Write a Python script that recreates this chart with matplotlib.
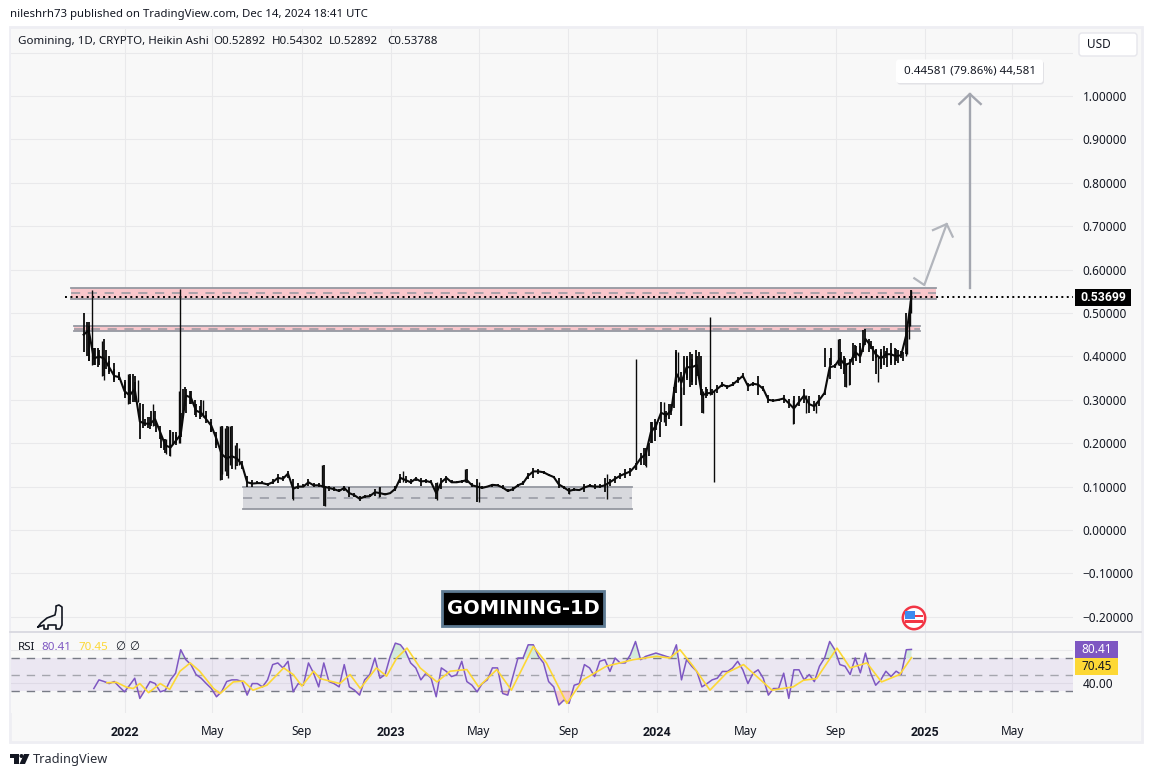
import matplotlib
matplotlib.use("Agg")
import matplotlib.pyplot as plt
from matplotlib.patches import Rectangle, FancyBboxPatch, Polygon, Circle

plt.rcParams['font.family'] = ['Noto Sans', 'DejaVu Sans']

# ---------- data (x = days since 2022-01-01) ----------
days = list(range(-56, 1079, 7))
closes = [.45,.46,.395,.40,.395,.375,.355,.352,.32,.31,.325,.25,.245,.245,.255,.225,.195,.19,.205,.22,
          .31,.305,.275,.27,.255,.24,.21,.175,.165,.17,.165,.15,.11,.107,.108,.108,.105,.11,.12,.118,
          .13,.095,.10,.10,.11,.103,.103,.10,.097,.094,.09,.097,.085,.08,.072,.077,.078,.087,.085,.082,
          .085,.095,.12,.115,.11,.118,.112,.113,.11,.085,.11,.12,.11,.11,.112,.115,.103,.10,.097,.10,
          .104,.103,.098,.09,.094,.103,.108,.125,.135,.135,.133,.127,.122,.105,.098,.09,.093,.092,.098,.102,
          .10,.10,.103,.11,.118,.125,.13,.135,.148,.165,.175,.225,.24,.27,.265,.275,.36,.34,.375,.375,
          .38,.31,.315,.316,.325,.335,.33,.335,.345,.355,.332,.337,.335,.325,.30,.298,.30,.303,.292,.28,
          .295,.31,.29,.285,.30,.316,.375,.378,.395,.38,.385,.41,.40,.44,.425,.405,.395,.405,.405,.40,
          .403,.45,.537]
highs = [.50,.48,.42,.415,.44,.39,.37,.36,.34,.36,.355,.293,.255,.26,.275,.24,.21,.23,.22,.27,
         .325,.32,.29,.30,.265,.255,.225,.24,.24,.24,.20,.16,.125,.115,.112,.112,.109,.117,.128,.125,
         .136,.117,.109,.105,.117,.109,.109,.15,.102,.098,.094,.102,.098,.086,.079,.08,.083,.094,.098,.085,
         .086,.102,.13,.125,.118,.123,.12,.118,.115,.109,.12,.125,.115,.113,.115,.14,.109,.117,.102,.102,
         .107,.105,.103,.094,.098,.107,.113,.132,.143,.14,.136,.13,.125,.12,.102,.097,.097,.095,.105,.105,
         .105,.105,.12,.117,.125,.132,.14,.143,.155,.178,.19,.25,.25,.295,.27,.29,.415,.365,.397,.405,
         .40,.324,.324,.325,.335,.34,.335,.34,.353,.362,.339,.342,.354,.331,.312,.302,.302,.312,.301,.308,
         .308,.324,.308,.297,.312,.32,.397,.382,.44,.397,.393,.427,.423,.462,.435,.416,.416,.412,.432,.416,
         .412,.50,.553]
lows = [.41,.39,.38,.38,.355,.36,.345,.345,.305,.29,.295,.21,.24,.232,.24,.21,.178,.17,.195,.215,
        .27,.29,.26,.26,.247,.225,.195,.115,.125,.14,.147,.14,.10,.10,.105,.105,.102,.105,.109,.113,
        .12,.071,.094,.098,.102,.098,.098,.055,.09,.09,.087,.09,.075,.075,.067,.073,.075,.079,.075,.08,
        .083,.09,.109,.109,.105,.113,.102,.109,.108,.071,.094,.109,.108,.108,.109,.109,.098,.064,.094,.098,
        .10,.102,.094,.088,.09,.098,.103,.117,.12,.13,.13,.124,.12,.097,.094,.082,.09,.09,.087,.10,
        .094,.097,.087,.102,.109,.117,.12,.125,.138,.15,.148,.20,.23,.25,.26,.265,.316,.24,.35,.34,
        .354,.27,.308,.31,.316,.33,.324,.331,.339,.35,.32,.332,.312,.32,.293,.295,.297,.293,.282,.245,
        .285,.293,.27,.274,.285,.312,.347,.374,.377,.33,.335,.397,.385,.427,.416,.397,.37,.397,.38,.39,
        .397,.405,.50]
spike_days = [-45,76,74,131,134,138,142,145,151,157,5,18,-31,-28,39,62,57,108,275,271,231,
              466,485,428,349,382,609,661,715,701,763,802,807,739,758,793,916,934,947,989,993,978,1032,
              1070,1072,1074,1076,1077]
spike_lows = [.38,.20,.20,.115,.13,.135,.12,.15,.14,.15,.29,.295,.355,.345,.24,.17,.175,.26,.055,.10,.07,
              .11,.064,.07,.075,.11,.082,.072,.145,.14,.241,.31,.11,.25,.34,.27,.245,.27,.27,.33,.335,.38,.34,
              .40,.405,.44,.47,.50]
spike_highs = [.553,.556,.32,.24,.24,.235,.24,.24,.195,.19,.36,.345,.435,.39,.29,.23,.21,.30,.10,.15,.10,
               .14,.11,.11,.098,.135,.097,.13,.19,.394,.33,.49,.32,.295,.41,.32,.30,.31,.295,.385,.38,.44,.40,
               .42,.46,.50,.53,.553]
body_days = [-52,-48,-40,-36,-25,-21,-14,-7,1,8,12,15,25,32,36,43,50,54,66,70,80,83,90,97,104,111,118,125,
             712,719,723,727,733,742,746,753,756,767,771,774,778,783,787,790,797,
             960,968,982,985,998,1002,1008,1012,1020,1025,1030,1036,1041,1045,1050,1055,1060,1066]
body_lows = [.40,.39,.38,.375,.37,.365,.34,.345,.31,.30,.295,.30,.235,.235,.24,.225,.19,.185,.195,.20,.26,.285,.29,.265,.255,.255,.225,.19,
             .15,.17,.20,.205,.215,.24,.255,.28,.33,.31,.345,.33,.335,.335,.35,.31,.305,
             .375,.38,.37,.36,.38,.39,.40,.41,.41,.39,.36,.375,.38,.375,.385,.38,.385,.39]
body_highs = [.48,.47,.42,.42,.415,.40,.385,.365,.345,.355,.36,.34,.29,.26,.275,.25,.22,.21,.225,.225,.325,.33,.32,.30,.285,.275,.25,.22,
              .19,.20,.25,.255,.25,.275,.29,.33,.41,.40,.40,.41,.395,.415,.41,.40,.33,
              .42,.42,.41,.40,.43,.425,.43,.46,.44,.425,.415,.41,.425,.42,.415,.42,.415,.41]

rsi_values = [33,43.5,41.5,39,41.5,35,29,37,45.5,21,31,41.5,39,29,31,43.5,51.6,80,68,62,
              50,45.5,39,33,23,29,41.5,43.5,43.5,41.5,25,39,39,35,43.5,62,64,58,66,29,
              39,37,64,51.6,35,64,41.5,39,35,62,35,31,25,43.5,50,70,45.5,50,72,88,
              86,78,64,58,43.5,51.6,45.5,23,58,53.7,47.5,49.6,66,41.4,37,29,39,43.5,58,58,
              27,25,47.5,70,70,86,86,72,64,41.4,35,13,19,15,37,39,62,58,47.5,66,
              68,53.7,70,64,64,74,90,68,72,74,76,74,72,70,86,43.5,68,60,53.7,35,
              39,43.5,45.5,53.7,53.7,58,66,55.7,39,51.6,55.7,45.5,25,33,33,51.6,21,55.7,
              55.7,43.5,50,41.4,60,70,90,80,62,60,50,70,52,76,52,37,43.5,54,47.5,54,50,80,80.41]
ma_days = [-24,-11,3,12,21,33,49,62,76,90,103,122,131,149,163,176,195,218,231,243,259,268,295,309,323,345,359,373,
           387,405,428,446,469,485,510,530,560,578,606,628,660,697,729,747,761,779,802,825,848,887,916,
           930,948,976,994,1017,1037,1062,1078]
ma_values = [40,40.5,34.5,33,39,28,39,32,54,64,54,33,27,41,42,31,37,58,50,36,54,45,39,50,33,58,48,70,
             82,58,41,54,56,35,56,31,84,64,15,43.5,60,68,72,70,80,60,31,52,62,31,35,
             43,45,82,58,64,41,50,70.45]

price_ticks = [-.2,-.1,0,.1,.2,.3,.4,.5,.6,.7,.8,.9,1.0]
date_ticks = [0,120,243,365,485,608,730,851,974,1096,1216]
date_labels = ['2022','May','Sep','2023','May','Sep','2024','May','Sep','2025','May']
year_labels = {'2022','2023','2024','2025'}
zone_red_top = (.5587,.5323,-73,1111)
zone_red_mid = (.4700,.4585,-69,1090)
zone_gray = (.0998,.0490,162,695)
last_price = .53699
rsi_last, ma_last = 80.41, 70.45
long_arrow_x = [1158,1158]
long_arrow_y = [.5576,1.0046]
long_head_x = [1143.6,1158,1172.9]
long_head_y = [.9816,1.0046,.9816]
short_arrow_x = [1081.9,1095.6,1126.3]
short_arrow_y = [.58,.5645,.705]
short_head_x = [1107.5,1126.3,1134.5]
short_head_y = [.691,.705,.676]

# ---------- figure geometry ----------
W, H = 1152, 777
BG = '#F8F8F8'
GRID = '#E9E9EB'
fig = plt.figure(figsize=(W/100, H/100), dpi=100, facecolor='white')

def ax_px(l, t, r, b, **kw):
    return fig.add_axes([l/W, 1-b/H, (r-l)/W, (b-t)/H], **kw)

under = fig.add_axes([0,0,1,1], zorder=-1)
under.set_xlim(0,W); under.set_ylim(H,0); under.axis('off')
under.add_patch(Rectangle((10,27),1132,715,fc=BG,ec='#EEEEF3',lw=2))

L, R = 11, 1073
xmin = (L-124.5)/0.73
xmax = (R-124.5)/0.73
ax = ax_px(L,29,R,631,zorder=2)
ax.set_facecolor(BG)
ax.set_xlim(xmin,xmax)
ax.set_ylim((530-631)/434,(530-29)/434)
rx = ax_px(L,633,R,713,zorder=2)
rx.set_facecolor(BG)
rx.set_xlim(xmin,xmax)
rx.set_ylim(30-(713-691)/.825,70+(658-633)/.825)

for a in (ax,rx):
    for s in a.spines.values():
        s.set_visible(False)
    a.tick_params(length=0, labelsize=8.5, colors='#131722')
    a.set_axisbelow(True)
    a.set_xticks(date_ticks)
    a.grid(True,color=GRID,lw=.75)

# main pane
ax.set_yticks(price_ticks+[1.1])
ax.set_yticklabels([f'{v:.5f}'.replace('-','\u2212') for v in price_ticks]+[''])
ax.yaxis.tick_right()
ax.tick_params(axis='y',pad=7)
ax.set_xticklabels([])

def zone(z,fc):
    top,bot,x0,x1 = z
    ax.fill_between([x0,x1],[bot,bot],[top,top],color=fc,lw=0,zorder=2)
    ax.plot([x0,x1],[top,top],color='#9598A1',lw=1.3,zorder=2.1)
    ax.plot([x0,x1],[bot,bot],color='#9598A1',lw=1.3,zorder=2.1)
    m=(top+bot)/2
    ax.plot([x0,x1],[m,m],color='#9598A1',lw=1.1,ls=(0,(6,5)),zorder=2.1)

zone(zone_red_top,'#F9C6CB')
zone(zone_red_mid,'#F9C6CB')
zone(zone_gray,'#D7D8DD')

ax.plot([-81,xmax],[last_price,last_price],color='black',lw=1.4,ls=(0,(1,1.8)),zorder=3)
ax.vlines(days,lows,highs,color='#0a0a0a',lw=1.3,zorder=4)
ax.vlines(spike_days,spike_lows,spike_highs,color='#0a0a0a',lw=1.0,zorder=4)
ax.vlines(body_days,body_lows,body_highs,color='#0a0a0a',lw=1.3,zorder=4)
ax.plot(days,closes,color='#0a0a0a',lw=1.5,zorder=4,solid_joinstyle='round')

ax.plot(long_arrow_x,long_arrow_y,color='#A3A6AF',lw=1.7,zorder=5)
ax.plot(long_head_x,long_head_y,color='#A3A6AF',lw=1.7,zorder=5)
ax.plot(short_arrow_x,short_arrow_y,color='#B2B5BC',lw=1.6,zorder=5)
ax.plot(short_head_x,short_head_y,color='#B2B5BC',lw=1.6,zorder=5)

# RSI pane
rsi_days = days[-len(rsi_values):]
rx.axhspan(30,70,color='#7E57C2',alpha=.1,lw=0,zorder=1)
rx.set_yticks([40,80])
rx.set_yticklabels(['40.00',''])
rx.yaxis.tick_right()
rx.tick_params(axis='y',pad=7)
rx.grid(True,color=GRID,lw=.75)
for v,c in ((70,'#787B86'),(30,'#787B86'),(50,'#A5A6AE')):
    rx.plot([xmin,xmax],[v,v],color=c,lw=1,ls=(0,(6,5)),zorder=1.5)
rx.fill_between(rsi_days,rsi_values,70,where=[v>=70 for v in rsi_values],interpolate=True,color='#A9DDBB',alpha=.45,lw=0,zorder=1.6)
rx.fill_between(rsi_days,rsi_values,30,where=[v<=30 for v in rsi_values],interpolate=True,color='#F6A8A8',alpha=.55,lw=0,zorder=1.6)
rx.plot(rsi_days,rsi_values,color='#7E57C2',lw=1.1,zorder=3)
rx.plot(ma_days,ma_values,color='#FDD835',lw=1.2,zorder=4)
rx.set_xticklabels(date_labels,fontsize=8.5)
rx.tick_params(axis='x',pad=9)
for t in rx.get_xticklabels():
    t.set_color('#131722')
    if t.get_text() in year_labels:
        t.set_family('Roboto')
        t.set_fontweight('bold')
        t.set_fontsize(9)

# chrome overlay
ov = fig.add_axes([0,0,1,1],zorder=10)
ov.set_xlim(0,W); ov.set_ylim(H,0); ov.axis('off')
ov.plot([10,1141],[632,632],color='#D6D6DE',lw=1.2)

TXT='#131722'
ov.text(10,15,'nileshrh73 published on TradingView.com, Dec 14, 2024 18:41 UTC',fontsize=8.2,color=TXT,va='center')
ov.text(18,41.5,'Gomining, 1D, CRYPTO, Heikin Ashi',fontsize=8.3,color=TXT,va='center')
ov.text(213,41.5,'O0.52892',fontsize=8.3,color=TXT,va='center')
ov.text(272,41.5,'H0.54302',fontsize=8.3,color=TXT,va='center')
ov.text(329,41.5,'L0.52892',fontsize=8.3,color=TXT,va='center')
ov.text(387,41.5,'C0.53788',fontsize=8.3,color=TXT,va='center')

# USD button
ov.add_patch(FancyBboxPatch((1079,33),58,23,boxstyle='round,pad=0,rounding_size=3',fc='white',ec='#E6E6EC',lw=1))
ov.text(1087,44.5,'USD',fontsize=8.5,color=TXT,va='center')

# measure label
ov.add_patch(FancyBboxPatch((897,61),147,23.5,boxstyle='round,pad=0,rounding_size=3',fc='#E2E2E6',ec='none'))
ov.add_patch(FancyBboxPatch((896,59.5),147,23.5,boxstyle='round,pad=0,rounding_size=3',fc='white',ec='none'))
ov.text(969.5,71,'0.44581 (79.86%) 44,581',fontsize=8.3,color=TXT,va='center',ha='center')

# price tag
ov.add_patch(Rectangle((1075,289),56,17,fc='black',ec='none'))
ov.text(1103,297.5,f'{last_price:.5f}',fontsize=8.8,color='white',family='Roboto',fontweight='bold',va='center',ha='center')

# RSI tags
ov.add_patch(Rectangle((1075,641),42.5,17.3,fc='#7E57C2',ec='none'))
ov.text(1096.2,649.7,f'{rsi_last:.2f}',fontsize=8.5,color='white',va='center',ha='center')
ov.add_patch(Rectangle((1075,658.3),42.5,16.7,fc='#FDD835',ec='none'))
ov.text(1096.2,666.7,f'{ma_last:.2f}',fontsize=8.5,color=TXT,va='center',ha='center')

# RSI legend
ov.text(18,647,'RSI',fontsize=8.3,color=TXT,va='center')
ov.text(41.5,647,f'{rsi_last:.2f}',fontsize=8.3,color='#7E57C2',va='center')
ov.text(78.5,647,f'{ma_last:.2f}',fontsize=8.3,color='#FDD835',va='center')
ov.text(115,647,'\u2205',fontsize=8.3,color=TXT,va='center')
ov.text(129,647,'\u2205',fontsize=8.3,color=TXT,va='center')

# title box
ov.add_patch(Rectangle((442,591),162,34.5,fc='black',ec='#5D7A92',lw=2))
ov.text(523,608,'GOMINING-1D',fontsize=14,color='white',family='DejaVu Sans',fontweight='bold',va='center',ha='center')

# dino
dx=[38,41,47,55,56,56,59,62,62,60,56,56,48,48,44,44,38]
dy=[627,623,618,615,610,606,605,607,625,629,629,625,625,629,629,625,627]
ov.plot(dx,dy,color='#131722',lw=1.2,solid_joinstyle='round')

# flag icon
ov.add_patch(Circle((914,618),11.2,fc='white',ec='#F23645',lw=1.8))
ov.add_patch(Rectangle((905,614.5),18,2.6,fc='#F23645',ec='none'))
ov.add_patch(Rectangle((905,620),18,2.6,fc='#F23645',ec='none'))
ov.add_patch(Rectangle((905,611),9.5,8,fc='#3D8BEF',ec='none'))

# logo
ov.add_patch(Polygon([(10,754),(19,754),(19,764),(14,764),(14,758),(10,758)],fc='#131722',ec='none'))
ov.add_patch(Circle((21.5,756),2,fc='#131722',ec='none'))
ov.add_patch(Polygon([(24,754),(29.5,754),(25,764),(19.5,764)],fc='#131722',ec='none'))
ov.text(33,759,'TradingView',fontsize=9.2,color='#2A2E39',va='center')

fig.savefig('out.png',dpi=100)
